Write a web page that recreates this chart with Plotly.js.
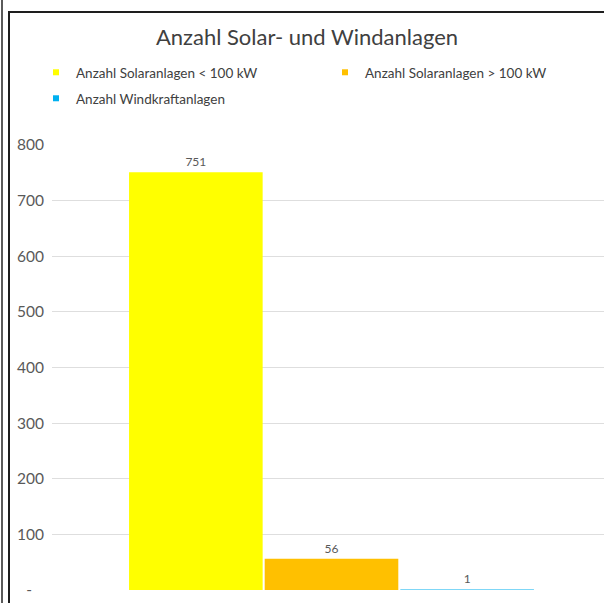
<!DOCTYPE html>
<html>
<head>
<meta charset="utf-8">
<script src="https://cdn.plot.ly/plotly-3.0.1.min.js"></script>
<style>
  html, body { margin: 0; padding: 0; background: #ffffff; width: 604px; height: 603px; overflow: hidden; }
  #outerLine { position: absolute; left: 1px; top: 0; width: 2px; height: 603px; background: #5a5a5a; }
  #frame { position: absolute; left: 8px; top: 11px; width: 596px; height: 592px; border-left: 2px solid #1e1e1e; border-top: 2px solid #1e1e1e; box-sizing: border-box; }
  #chart { position: absolute; left: 10px; top: 13px; width: 594px; height: 590px; }
</style>
</head>
<body>
<div id="outerLine"></div>
<div id="frame"></div>
<div id="chart"></div>
<script>
// ---- Data ----
const categories = ["Anlagen"];
const seriesNames = ["Anzahl Solaranlagen < 100 kW", "Anzahl Solaranlagen > 100 kW", "Anzahl Windkraftanlagen"];
const solarSmall = [751];
const solarLarge = [56];
const windTurbines = [1];
const yTickValues = [0, 100, 200, 300, 400, 500, 600, 700, 800];
const yTickLabels = ["-\u00a0\u00a0\u00a0", "100", "200", "300", "400", "500", "600", "700", "800"];
const chartTitle = "Anzahl Solar- und Windanlagen";

// ---- Styles ----
const colors = ["#FFFF00", "#FFC000", "#00B0F0"];
const seriesValues = [solarSmall, solarLarge, windTurbines];
const legendIds = ["legend", "legend2", "legend3"];
const font = "Lato, 'Open Sans', sans-serif";
const gray = "#595959";

const traces = [];
seriesValues.forEach((vals, i) => {
  traces.push({
    type: "bar",
    x: categories,
    y: vals,
    name: seriesNames[i],
    marker: { color: colors[i] },
    text: vals.map(String),
    textposition: "outside",
    cliponaxis: false,
    textfont: { family: font, size: 12, color: gray },
    showlegend: false,
    hoverinfo: "skip"
  });
});
// legend entries with small square markers
seriesNames.forEach((nm, i) => {
  traces.push({
    type: "scatter",
    mode: "markers",
    x: [null],
    y: [null],
    name: nm,
    marker: { symbol: "square", size: 6, color: colors[i] },
    legend: legendIds[i],
    showlegend: true,
    hoverinfo: "skip"
  });
});

const legendCommon = {
  orientation: "v",
  xref: "container",
  yref: "container",
  xanchor: "left",
  yanchor: "top",
  font: { family: font, size: 13.5, color: "#404040" },
  bgcolor: "rgba(0,0,0,0)",
  itemwidth: 30,
  itemclick: false,
  itemdoubleclick: false
};

const layout = {
  width: 594,
  height: 590,
  margin: { l: 42, r: 0, t: 132, b: 13, autoexpand: false },
  paper_bgcolor: "#ffffff",
  plot_bgcolor: "#ffffff",
  font: { family: font, color: gray },
  title: {
    text: chartTitle,
    font: { family: font, size: 22, color: "#404040" },
    x: 0.5, xanchor: "center",
    y: 1 - 24 / 590, yanchor: "middle",
    xref: "container", yref: "container"
  },
  barmode: "group",
  bargap: 0.272,
  bargroupgap: 0.015,
  xaxis: {
    type: "category",
    range: [-0.5, 0.4875],
    showticklabels: false,
    showgrid: false,
    zeroline: false,
    showline: false,
    ticks: "",
    fixedrange: true
  },
  yaxis: {
    range: [0, 800],
    tickvals: yTickValues,
    ticktext: yTickLabels,
    tickfont: { family: font, size: 15.5, color: gray },
    showgrid: true,
    gridcolor: "#dedede",
    gridwidth: 1,
    zeroline: false,
    showline: false,
    ticks: "",
    ticklabelstandoff: 7,
    automargin: false,
    fixedrange: true
  },
  legend: Object.assign({}, legendCommon, { x: 26 / 594, y: 1 - 44 / 590 }),
  legend2: Object.assign({}, legendCommon, { x: 315 / 594, y: 1 - 44 / 590 }),
  legend3: Object.assign({}, legendCommon, { x: 26 / 594, y: 1 - 70 / 590 }),
  showlegend: true
};

Plotly.newPlot("chart", traces, layout, { displayModeBar: false, staticPlot: true });
</script>
</body>
</html>
